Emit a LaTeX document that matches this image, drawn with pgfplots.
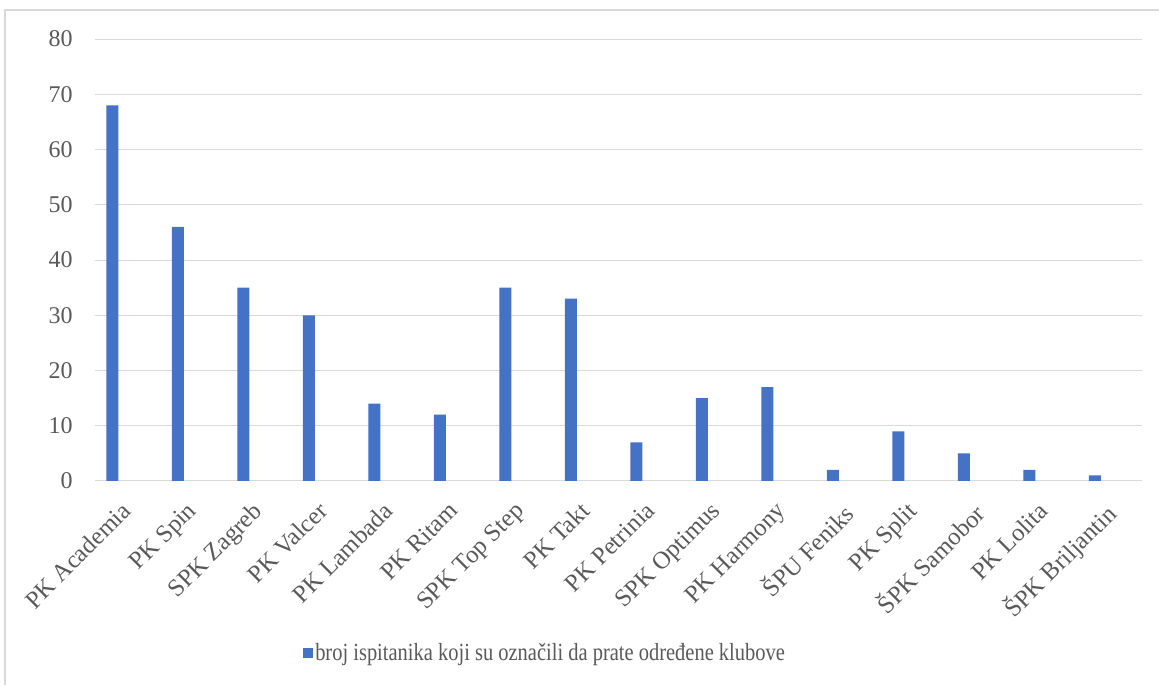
\documentclass[border=0pt]{standalone}
\usepackage{fontspec}
\setmainfont{Liberation Serif}
\usepackage{graphicx}
\usepackage{pgfplots}
\pgfplotsset{compat=1.18}
\definecolor{barblue}{HTML}{4472C4}
\definecolor{gridgray}{HTML}{D9D9D9}
\definecolor{txt}{HTML}{595959}
\begin{document}
\begin{tikzpicture}
\useasboundingbox (0pt,0pt) rectangle (869.25pt,513.75pt);
\draw[gridgray, line width=1.5pt] (3.75pt,0pt) -- (3.75pt,506.25pt) -- (869.25pt,506.25pt);
\begin{axis}[
  at={(71.25pt,153pt)}, anchor=south west,
  scale only axis, width=785pt, height=331.5pt,
  xmin=-0.267, xmax=15.713, ymin=0, ymax=80,
  ytick={0,10,20,30,40,50,60,70,80},
  ymajorgrids, grid style={gridgray, line width=0.75pt},
  axis line style={draw=none}, major tick length=0pt,
  xtick={0.2328,1.2328,2.2328,3.2328,4.2328,5.2328,6.2328,7.2328,8.2328,9.2328,10.2328,11.2328,12.2328,13.2328,14.2328,15.2328},
  xticklabels={PK Academia, PK Spin, SPK Zagreb, PK Valcer, PK Lambada, PK Ritam, SPK Top Step, PK Takt, PK Petrinia, SPK Optimus, PK Harmony, ŠPU Feniks, PK Split, ŠPK Samobor, PK Lolita, ŠPK Briljantin},
  x tick label style={xshift=-5.6pt, yshift=-14.5pt, rotate=45, anchor=north east, inner sep=0pt, font=\fontsize{18.5pt}{22pt}\selectfont, text=txt},
  y tick label style={anchor=east, inner sep=0pt, xshift=-16.5pt, font=\fontsize{18pt}{21pt}\selectfont, text=txt},
  /pgf/number format/assume math mode=true,
  clip=false,
  legend style={at={(0.43,-0.389)}, anchor=center, draw=none, fill=none, font=\fontsize{18.5pt}{22pt}\selectfont, text=txt, inner sep=0pt, nodes={inner xsep=1.5pt}},
]
\addplot[ybar, fill=barblue, draw=none, bar width=9pt,
  legend image code/.code={\fill[barblue] (0pt,-3.75pt) rectangle (7.5pt,3.75pt);}]
  coordinates {(0,68)(1,46)(2,35)(3,30)(4,14)(5,12)(6,35)(7,33)(8,7)(9,15)(10,17)(11,2)(12,9)(13,5)(14,2)(15,1)};
\addlegendentry{\scalebox{0.83}[1]{broj ispitanika koji su označili da prate određene klubove}}
\end{axis}
\end{tikzpicture}
\end{document}
